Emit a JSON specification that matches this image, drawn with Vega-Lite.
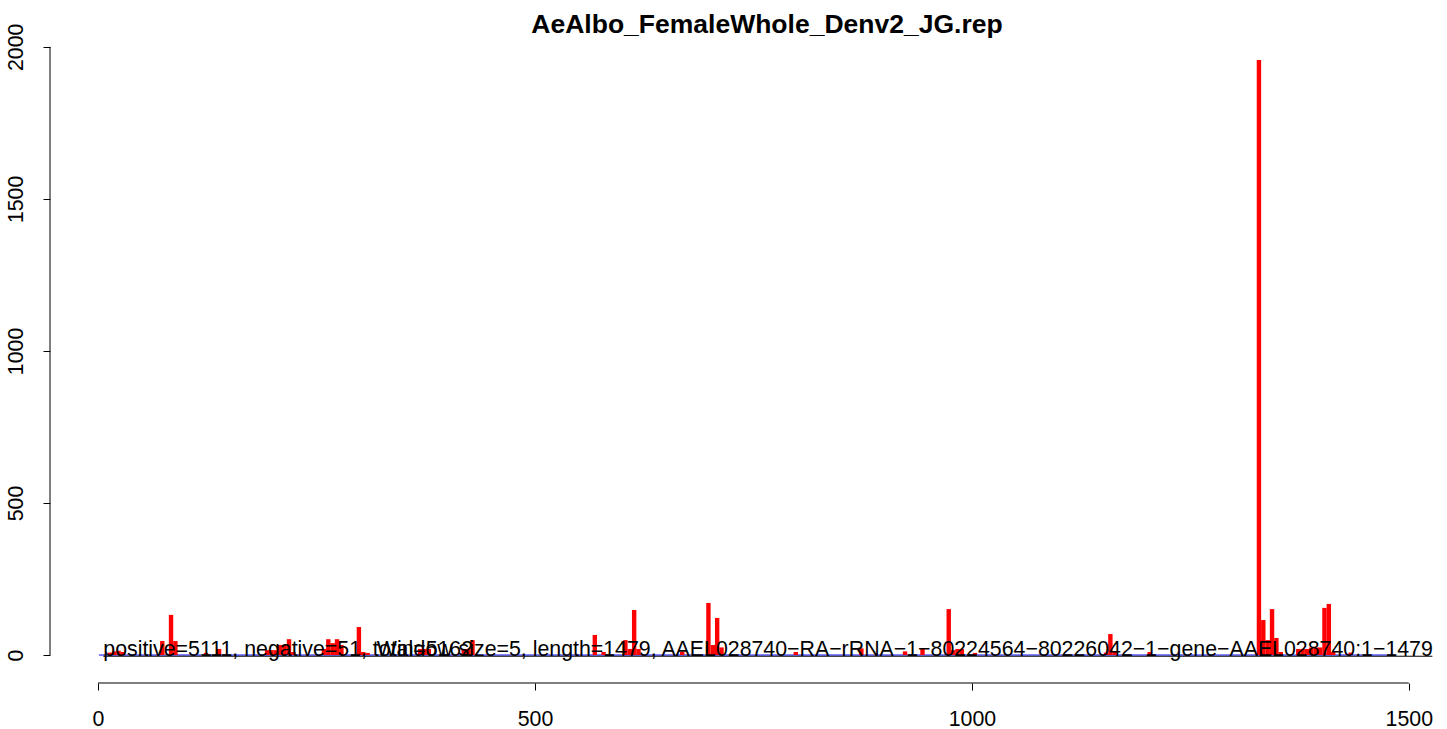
{
  "$schema": "https://vega.github.io/schema/vega-lite/v6.json",
  "width": 1392,
  "height": 655,
  "autosize": {"type": "none"},
  "padding": {"left": 50, "top": 28, "right": 5, "bottom": 46},
  "background": "white",
  "config": {
    "view": {"stroke": null},
    "font": "Liberation Sans",
    "axis": {"title": null, "grid": false, "domain": false, "ticks": true, "tickSize": 7, "tickColor": "black", "tickWidth": 1, "labelColor": "black", "labelFont": "Liberation Sans", "labelFontSize": 21.33, "labelFlush": false, "labelOverlap": false, "labelBound": false, "format": "d"},
    "axisX": {"labelAngle": 0, "labelAlign": "center", "labelBaseline": "alphabetic", "labelPadding": 35},
    "axisY": {"labelAngle": 270, "labelAlign": "center", "labelBaseline": "alphabetic", "labelPadding": 21}
  },
  "title": {"text": "AeAlbo_FemaleWhole_Denv2_JG.rep", "font": "Liberation Sans", "fontSize": 26.5, "fontWeight": "bold", "color": "black", "anchor": "middle", "frame": "group", "baseline": "alphabetic", "offset": -4, "dx": 21, "dy": 32},
  "datasets": {
    "windows": [
      {"pos": 13.5, "count": 8}, {"pos": 18.5, "count": 12}, {"pos": 23.5, "count": 14}, {"pos": 28.5, "count": 10},
      {"pos": 73.5, "count": 46}, {"pos": 83.5, "count": 132}, {"pos": 88.5, "count": 46}, {"pos": 123.5, "count": 7},
      {"pos": 138.5, "count": 20}, {"pos": 193.5, "count": 16}, {"pos": 198.5, "count": 16}, {"pos": 203.5, "count": 16},
      {"pos": 208.5, "count": 33}, {"pos": 213.5, "count": 33}, {"pos": 218.5, "count": 52}, {"pos": 223.5, "count": 10},
      {"pos": 258.5, "count": 20}, {"pos": 263.5, "count": 52}, {"pos": 268.5, "count": 39}, {"pos": 273.5, "count": 52},
      {"pos": 278.5, "count": 33}, {"pos": 298.5, "count": 92}, {"pos": 303.5, "count": 10}, {"pos": 308.5, "count": 7},
      {"pos": 368.5, "count": 20}, {"pos": 373.5, "count": 20}, {"pos": 378.5, "count": 20}, {"pos": 418.5, "count": 20},
      {"pos": 423.5, "count": 20}, {"pos": 428.5, "count": 49}, {"pos": 568.5, "count": 66}, {"pos": 578.5, "count": 10},
      {"pos": 603.5, "count": 49}, {"pos": 608.5, "count": 20}, {"pos": 613.5, "count": 148}, {"pos": 618.5, "count": 20},
      {"pos": 668.5, "count": 10}, {"pos": 698.5, "count": 171}, {"pos": 703.5, "count": 33}, {"pos": 708.5, "count": 122},
      {"pos": 713.5, "count": 25}, {"pos": 798.5, "count": 10}, {"pos": 873.5, "count": 22}, {"pos": 923.5, "count": 12},
      {"pos": 943.5, "count": 20}, {"pos": 973.5, "count": 151}, {"pos": 978.5, "count": 16}, {"pos": 983.5, "count": 20},
      {"pos": 988.5, "count": 20}, {"pos": 1003.5, "count": 7}, {"pos": 1153.5, "count": 8}, {"pos": 1158.5, "count": 69},
      {"pos": 1163.5, "count": 12}, {"pos": 1203.5, "count": 10}, {"pos": 1328.5, "count": 1957}, {"pos": 1333.5, "count": 115},
      {"pos": 1338.5, "count": 49}, {"pos": 1343.5, "count": 151}, {"pos": 1348.5, "count": 56}, {"pos": 1353.5, "count": 10},
      {"pos": 1373.5, "count": 20}, {"pos": 1378.5, "count": 20}, {"pos": 1383.5, "count": 20}, {"pos": 1388.5, "count": 25},
      {"pos": 1393.5, "count": 25}, {"pos": 1398.5, "count": 25}, {"pos": 1403.5, "count": 155}, {"pos": 1408.5, "count": 168},
      {"pos": 1413.5, "count": 10}, {"pos": 1433.5, "count": 8}
    ],
    "one": [{}]
  },
  "layer": [
    {
      "data": {"name": "one"},
      "mark": {"type": "rule", "color": "blue", "strokeWidth": 1},
      "encoding": {
        "x": {"datum": 1, "type": "quantitative"},
        "x2": {"datum": 1479},
        "y": {"datum": 0, "type": "quantitative"}
      }
    },
    {
      "data": {"name": "windows"},
      "mark": {"type": "bar", "color": "red", "size": 4.4},
      "encoding": {
        "x": {"field": "pos", "type": "quantitative", "scale": {"domain": [-55, 1538], "nice": false, "zero": false, "padding": 0}, "axis": {"values": [0, 500, 1000, 1500], "orient": "bottom"}},
        "y": {"field": "count", "type": "quantitative", "scale": {"domain": [-92, 2062], "nice": false, "zero": false, "padding": 0}, "axis": {"values": [0, 500, 1000, 1500, 2000], "orient": "left"}}
      }
    },
    {
      "data": {"name": "one"},
      "mark": {"type": "rule", "color": "black", "strokeWidth": 1},
      "encoding": {
        "x": {"datum": 6, "type": "quantitative"},
        "x2": {"datum": 1527},
        "y": {"datum": -4, "type": "quantitative"}
      }
    },
    {
      "data": {"name": "one"},
      "mark": {"type": "rule", "color": "black", "strokeWidth": 1},
      "encoding": {
        "x": {"datum": 0, "type": "quantitative"},
        "x2": {"datum": 1500},
        "y": {"datum": -92, "type": "quantitative"}
      }
    },
    {
      "data": {"name": "one"},
      "mark": {"type": "rule", "color": "black", "strokeWidth": 1},
      "encoding": {
        "x": {"datum": -55, "type": "quantitative"},
        "y": {"datum": 0, "type": "quantitative"},
        "y2": {"datum": 2000}
      }
    },
    {
      "data": {"name": "one"},
      "mark": {"type": "text", "text": "positive=5111, negative=51, total=5162", "font": "Liberation Sans", "fontSize": 21.33, "align": "left", "baseline": "alphabetic", "color": "black"},
      "encoding": {
        "x": {"datum": 6, "type": "quantitative"},
        "y": {"datum": -3, "type": "quantitative"}
      }
    },
    {
      "data": {"name": "one"},
      "mark": {"type": "text", "text": "Window size=5, length=1479, AAEL028740−RA−rRNA−1−80224564−80226042−1−gene−AAEL028740:1−1479", "font": "Liberation Sans", "fontSize": 21.33, "align": "left", "baseline": "alphabetic", "color": "black"},
      "encoding": {
        "x": {"datum": 319, "type": "quantitative"},
        "y": {"datum": -3, "type": "quantitative"}
      }
    }
  ]
}
